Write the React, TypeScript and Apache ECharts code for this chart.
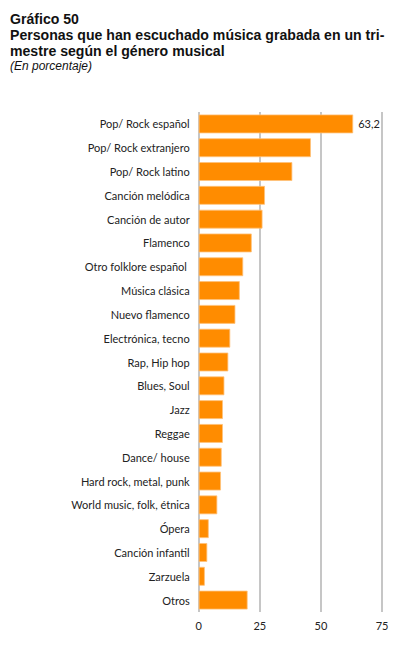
import React, { useEffect, useRef } from "react";
import * as echarts from "echarts";

const categories = [
  "Pop/ Rock español",
  "Pop/ Rock extranjero",
  "Pop/ Rock latino",
  "Canción melódica",
  "Canción de autor",
  "Flamenco",
  "Otro folklore español ",
  "Música clásica",
  "Nuevo flamenco",
  "Electrónica, tecno",
  "Rap, Hip hop",
  "Blues, Soul",
  "Jazz",
  "Reggae",
  "Dance/ house",
  "Hard rock, metal, punk",
  "World music, folk, étnica",
  "Ópera",
  "Canción infantil",
  "Zarzuela",
  "Otros",
];

const values = [63.2, 45.9, 38.3, 27.1, 26.1, 21.7, 18.2, 16.8, 15.0, 12.9, 12.1, 10.5, 9.9, 9.9, 9.4, 9.1, 7.6, 4.1, 3.5, 2.5, 20.0];

const xTicks = [0, 25, 50, 75];

const titleLines = [
  "Gráfico 50",
  "Personas que han escuchado música grabada en un tri-",
  "mestre según el género musical",
];
const subtitle = "(En porcentaje)";

const FONT = "Lato";
const TFONT = "Liberation Sans";

export default function App() {
  const ref = useRef<HTMLDivElement>(null);
  useEffect(() => {
    if (!ref.current) return;
    const chart = echarts.init(ref.current, undefined, { renderer: "svg" });
    chart.setOption({
      animation: false,
      graphic: [
        ...titleLines.map((t, i) => ({
          type: "text",
          x: 2,
          y: 11.4 + i * 15.9,
          style: { text: t, font: `bold 14.1px "${TFONT}"`, fill: "#111", verticalAlign: "middle", textVerticalAlign: "middle" },
        })),
        {
          type: "text",
          x: 2,
          y: 58,
          style: { text: subtitle, font: `italic 12px "${TFONT}"`, fill: "#111", verticalAlign: "middle", textVerticalAlign: "middle" },
        },
      ],
      grid: { left: 190.7, right: 19, top: 104, bottom: 33 },
      xAxis: {
        type: "value",
        min: xTicks[0],
        max: xTicks[xTicks.length - 1],
        interval: 25,
        axisLine: { show: false },
        axisTick: { show: false },
        axisLabel: { fontFamily: FONT, fontSize: 11, color: "#222", margin: 8 },
        splitLine: { show: true, lineStyle: { color: "#b3b3b3", width: 1.5 } },
      },
      yAxis: {
        type: "category",
        data: categories,
        inverse: true,
        axisLine: { show: false },
        axisTick: { show: false },
        axisLabel: { fontFamily: FONT, fontSize: 11, color: "#222", margin: 9 },
      },
      series: [
        {
          type: "bar",
          data: values.map((v, i) => ({
            value: v,
            label: i === 0 ? { show: true, position: "right", formatter: () => String(v).replace(".", ","), fontFamily: FONT, fontSize: 11, color: "#222", distance: 5 } : { show: false },
          })),
          barWidth: "79%",
          itemStyle: { color: "#ff8c00", borderColor: "#ffc27a", borderWidth: 0.8 },
        },
      ],
    });
    return () => chart.dispose();
  }, []);
  return <div ref={ref} style={{ width: 393, height: 637 }} />;
}
